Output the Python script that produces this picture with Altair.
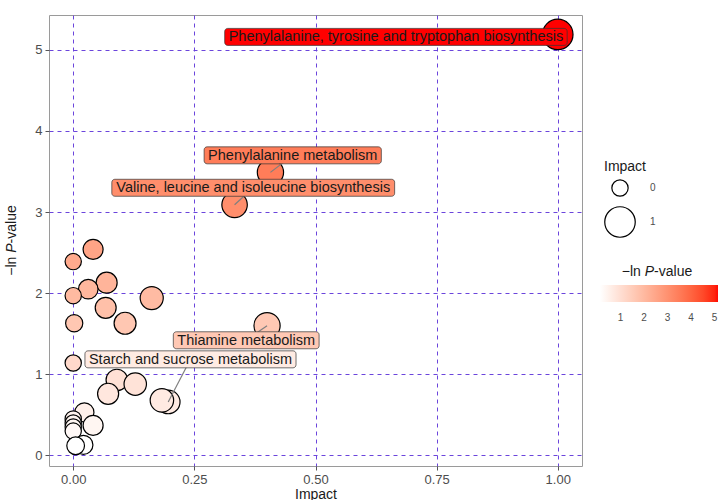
import altair as alt
import pandas as pd

# Pathway impact (x) and -ln P-value (y) for every pathway in the analysis
impact = [1.00, 0.407, 0.333, 0.400, 0.196, 0.183,
          0.041, 0.000, 0.069, 0.031, 0.000, 0.162, 0.067, 0.107, 0.002, 0.000,
          0.090, 0.128, 0.072, 0.023, 0.000, 0.000, 0.000, 0.000, 0.041, 0.021, 0.005]
neg_log_p = [5.19, 3.49, 3.09, 1.60, 0.66, 0.68,
             2.54, 2.39, 2.13, 2.05, 1.97, 1.94, 1.82, 1.63, 1.63, 1.14,
             0.93, 0.88, 0.76, 0.53, 0.45, 0.40, 0.35, 0.30, 0.37, 0.13, 0.12]

# Labelled pathways: row in the arrays above and where the label sits
label_names = [
    "Phenylalanine, tyrosine and tryptophan biosynthesis",
    "Phenylalanine metabolism",
    "Valine, leucine and isoleucine biosynthesis",
    "Thiamine metabolism",
    "Starch and sucrose metabolism",
]
label_rows = [0, 1, 2, 3, 4]
label_x = [0.666, 0.453, 0.3715, 0.357, 0.242]
label_y = [5.16, 3.70, 3.30, 1.42, 1.185]

x_ticks = [0, 0.25, 0.5, 0.75, 1.0]
y_ticks = [0, 1, 2, 3, 4, 5]

FONT = "Liberation Sans"
X_DOMAIN = [-0.05, 1.05]
Y_DOMAIN = [-0.13, 5.43]
W, H = 533, 451
PAD_L, PAD_T = 49, 15
PX_X = W / (X_DOMAIN[1] - X_DOMAIN[0])
PX_Y = H / (Y_DOMAIN[1] - Y_DOMAIN[0])
LABEL_SIZE = 14.5
TITLE_SIZE = 14

# Helvetica advance widths (per 1000 em) to size label boxes and title pieces
HELV = {" ": 278, ",": 278, "-": 333, "\u2212": 584, "a": 556, "b": 556, "c": 500,
        "d": 556, "e": 556, "h": 556, "i": 222, "l": 222, "m": 833, "n": 556,
        "o": 556, "p": 556, "r": 333, "s": 500, "t": 278, "u": 556, "v": 500,
        "y": 500, "P": 667, "V": 667, "T": 611, "S": 667}


def text_width(s, size):
    return sum(HELV.get(c, 556) for c in s) * size / 1000.0


points = pd.DataFrame({"impact": impact, "neglogp": neg_log_p})

labels = pd.DataFrame({
    "name": label_names,
    "lx": label_x,
    "ly": label_y,
    "impact": [impact[i] for i in label_rows],
    "neglogp": [neg_log_p[i] for i in label_rows],
})
half_w = [(text_width(n, LABEL_SIZE) + 8) / 2 / PX_X for n in label_names]
half_h = 8.5 / PX_Y
labels["bx0"] = [x - h for x, h in zip(label_x, half_w)]
labels["bx1"] = [x + h for x, h in zip(label_x, half_w)]
labels["by0"] = [y - half_h for y in label_y]
labels["by1"] = [y + half_h for y in label_y]

color_scale = alt.Scale(domain=[min(neg_log_p), max(neg_log_p)],
                        range=["#FFFFFF", "#FF0000"], interpolate="lab")
size_scale = alt.Scale(type="sqrt", domain=[0, 1], range=[266, 930])

x_scale = alt.Scale(domain=X_DOMAIN, nice=False, zero=False)
y_scale = alt.Scale(domain=Y_DOMAIN, nice=False, zero=False)
x_axis = alt.Axis(values=x_ticks, format=".2f", title="Impact",
                  labelPadding=3, titlePadding=1)
y_axis = alt.Axis(values=y_ticks, format="d", title=None, labelPadding=3)


def xq(field):
    return alt.X(f"{field}:Q", scale=x_scale, axis=x_axis, title="Impact")


def yq(field):
    return alt.Y(f"{field}:Q", scale=y_scale, axis=y_axis, title=None)


pts = alt.Chart(points).mark_circle(stroke="black", strokeWidth=1.2, opacity=1).encode(
    x=xq("impact"),
    y=yq("neglogp"),
    fill=alt.Fill("neglogp:Q", scale=color_scale, title=None,
                  legend=alt.Legend(orient="none", direction="horizontal",
                                    legendX=551, legendY=270,
                                    gradientLength=119, gradientThickness=17,
                                    gradientStrokeWidth=0,
                                    values=[1, 2, 3, 4, 5], format="d",
                                    labelFontSize=10, labelColor="#4d4d4d",
                                    labelOffset=11)),
    size=alt.Size("impact:Q", scale=size_scale, title="Impact",
                  legend=alt.Legend(orient="none", legendX=555, legendY=145,
                                    values=[0, 1], format="d",
                                    symbolFillColor="white", symbolStrokeColor="black",
                                    symbolStrokeWidth=1.2, symbolOpacity=1,
                                    labelFontSize=10, labelColor="#4d4d4d",
                                    labelOffset=14, rowPadding=5, titlePadding=5)),
)

links = alt.Chart(labels).mark_rule(color="#7f7f7f", strokeWidth=1.2).encode(
    x=xq("impact"), y=yq("neglogp"), x2="lx:Q", y2="ly:Q",
)

boxes = alt.Chart(labels).mark_rect(cornerRadius=3, stroke="#333333", strokeWidth=0.7).encode(
    x=xq("bx0"), x2="bx1:Q", y=yq("by0"), y2="by1:Q",
    fill=alt.Fill("neglogp:Q", scale=color_scale, legend=None),
)

texts = alt.Chart(labels).mark_text(font=FONT, fontSize=LABEL_SIZE, color="#1a1a1a",
                                    align="center", baseline="middle", dy=0.5).encode(
    x=xq("lx"), y=yq("ly"), text="name:N",
)

# "−ln P-value" with an italic P, built from three text runs
title_parts = ["\u2212ln ", "P", "-value"]
title_styles = ["normal", "italic", "normal"]
title_widths = [text_width(p, TITLE_SIZE) for p in title_parts]
title_total = sum(title_widths)


def title_runs(cx, cy, vertical):
    layers = []
    offset = -title_total / 2
    for part, style, w in zip(title_parts, title_styles, title_widths):
        if vertical:
            px, py, ang = cx, cy - offset, 270
        else:
            px, py, ang = cx + offset, cy, 0
        layers.append(
            alt.Chart(pd.DataFrame({"t": [part]})).mark_text(
                font=FONT, fontSize=TITLE_SIZE, fontStyle=style, color="#1a1a1a",
                align="left", baseline="middle", angle=ang,
            ).encode(x=alt.value(px), y=alt.value(py), text="t:N")
        )
        offset += w
    return layers


y_title = title_runs(12 - PAD_L, H / 2, vertical=True)
legend_title = title_runs(657 - PAD_L, 272 - PAD_T, vertical=False)

chart = alt.layer(pts, links, boxes, texts, *y_title, *legend_title).properties(
    width=W, height=H,
    autosize=alt.AutoSizeParams(type="none"),
    padding={"left": PAD_L, "top": PAD_T, "right": 718 - PAD_L - W, "bottom": 500 - PAD_T - H},
    background="white",
).configure_view(
    stroke="#9a9a9a", strokeWidth=1,
).configure_axis(
    grid=True, gridColor="#6b45dc", gridDash=[4, 4], gridWidth=1, gridOpacity=1,
    domain=False, tickColor="#555555", tickSize=4,
    labelFont=FONT, labelFontSize=13, labelColor="#4d4d4d",
    titleFont=FONT, titleFontSize=TITLE_SIZE, titleFontWeight="normal", titleColor="#1a1a1a",
).configure_legend(
    titleFont=FONT, titleFontSize=TITLE_SIZE, titleFontWeight="normal", titleColor="#1a1a1a",
    labelFont=FONT,
)

chart.save("out.html", embed_options={"renderer": "svg", "actions": False})
